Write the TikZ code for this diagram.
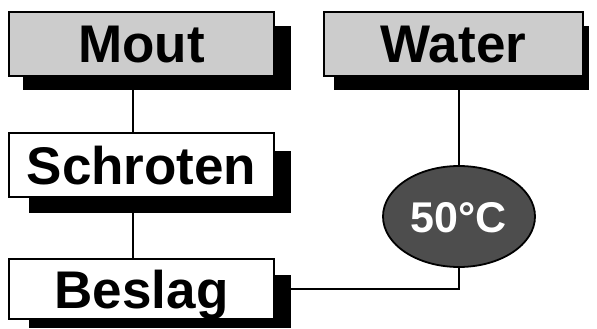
\documentclass[tikz,border=0pt]{standalone}
\usepackage{fontspec}
\newfontfamily\labelfont{Liberation Sans}
\usetikzlibrary{shapes.geometric,calc}
\pgfdeclarelayer{background}
\pgfsetlayers{background,main}
\definecolor{boxgray}{HTML}{CCCCCC}
\definecolor{tempfill}{HTML}{4D4D4D}
\begin{document}
\begin{tikzpicture}[x=1pt,y=-1pt,
  stepbox/.style={draw=black,line width=1.8pt,inner sep=0pt,
    minimum width=265pt,minimum height=64pt,
    font=\labelfont\bfseries\fontsize{53}{58}\selectfont,
    text height=38pt,text depth=0pt},
  inbox/.style={stepbox,fill=boxgray},
  workbox/.style={stepbox,fill=white},
  tempnode/.style={ellipse,draw=black,line width=1.8pt,fill=tempfill,
    inner sep=0pt,minimum width=152pt,minimum height=101pt,
    text=white,font=\labelfont\bfseries\fontsize{43}{48}\selectfont,
    text height=31pt,text depth=0pt},
  shadowfill/.style={fill=black},
  conn/.style={draw=black,line width=2.6pt}]
\useasboundingbox (0,0) rectangle (597,329);

% process steps
\node[inbox] (mout) at (141.5,44) {Mout};
\node[inbox,minimum width=259pt] (water) at (453.5,44) {Water};
\node[workbox] (schroten) at (141.5,165) {Schroten};
\node[workbox,minimum height=60pt] (beslag) at (141.5,289) {Beslag};
\node[tempnode] (temp) at (459,216.5) {50°C};

\begin{pgfonlayer}{background}
  % connectors
  \draw[conn] ([xshift=-8.5pt]mout.south) -- ([xshift=-8.5pt]schroten.north);
  \draw[conn] ([xshift=-8.5pt]schroten.south) -- ([xshift=-8.5pt]beslag.north);
  \draw[conn] (water.south -| temp.north) -- (temp.north);
  \draw[conn] (temp.south) |- (beslag.east);
  % drop shadows
  \fill[shadowfill] ($(mout.south west)+(15,13)$) rectangle ($(mout.north east)+(16,15)$);
  \fill[shadowfill] ($(water.south west)+(11,13)$) rectangle ($(water.north east)+(5,15)$);
  \fill[shadowfill] ($(schroten.south west)+(21,15)$) rectangle ($(schroten.north east)+(16,19)$);
  \fill[shadowfill] ($(beslag.south west)+(21,8)$) rectangle ($(beslag.north east)+(16,17)$);
\end{pgfonlayer}
\end{tikzpicture}
\end{document}
